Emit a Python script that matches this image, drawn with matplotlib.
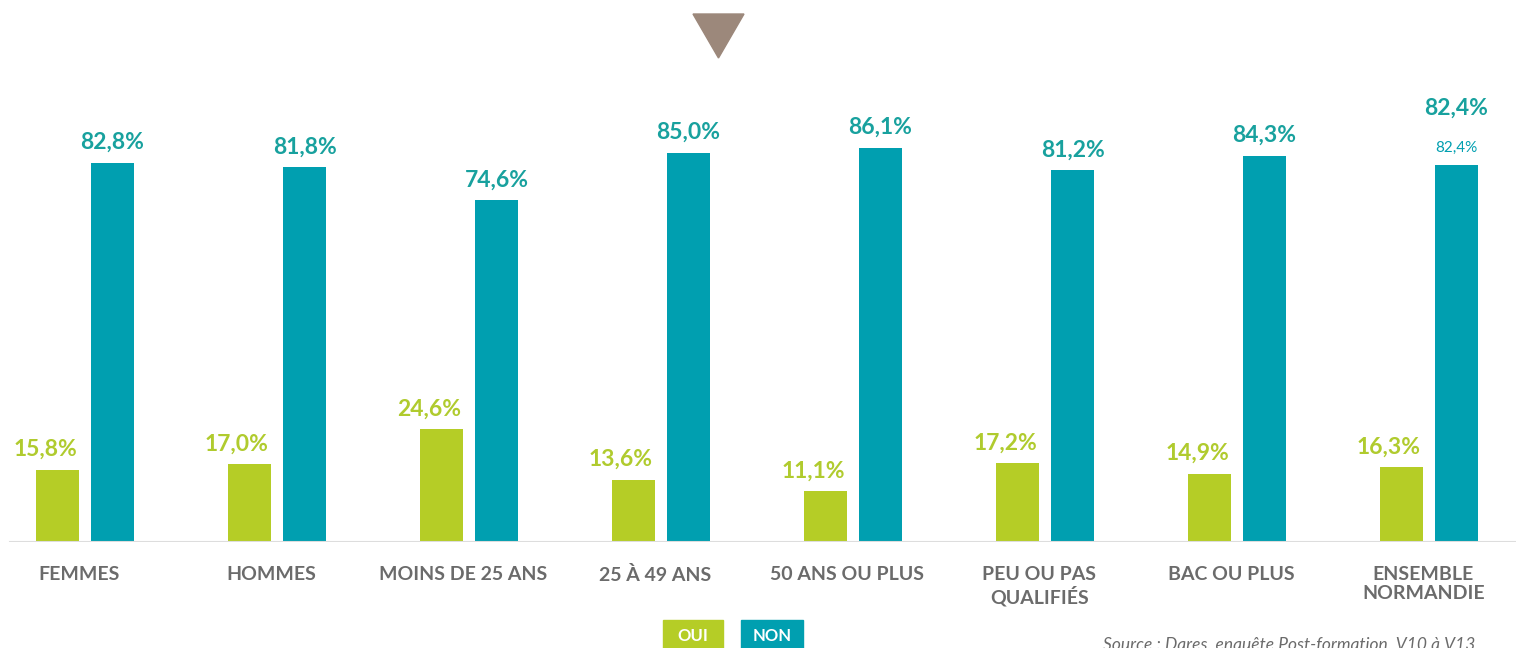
import matplotlib.pyplot as plt
from matplotlib.patches import Polygon, Rectangle
import numpy as np

plt.rcParams['font.family'] = ['Lato', 'DejaVu Sans']

categories = ["FEMMES", "HOMMES", "MOINS DE 25 ANS", "25 À 49 ANS", "50 ANS OU PLUS",
              "PEU OU PAS\nQUALIFIÉS", "BAC OU PLUS", "ENSEMBLE\nNORMANDIE"]
oui = [15.8, 17.0, 24.6, 13.6, 11.1, 17.2, 14.9, 16.3]
non = [82.8, 81.8, 74.6, 85.0, 86.1, 81.2, 84.3, 82.4]

vert = "#b5cd26"
bleu = "#009fb0"
vert_txt = "#b0cb2e"
bleu_txt = "#18a19e"
gris = "#6b6b6b"

W, H = 1516, 648
fig = plt.figure(figsize=(W / 100, H / 100), dpi=100)
ax = fig.add_axes([0, 1 - 542 / H, 1, 458 / H])

x = np.arange(len(categories))
larg = 43 / 192
dec = 55 / 2 / 192

ax.bar(x - dec, oui, width=larg, color=vert, zorder=2)
ax.bar(x + dec, non, width=larg, color=bleu, zorder=2)

def fmt(v):
    return f"{v:.1f}%".replace(".", ",")

for i in range(len(categories)):
    ax.annotate(fmt(oui[i]), (x[i] - dec, oui[i]), xytext=(-9, 7), textcoords="offset points",
                ha="center", va="bottom",
                fontsize=16.5, fontweight="bold", color=vert_txt)
    if i == len(categories) - 1:
        ax.annotate(fmt(non[i]), (x[i] + dec, non[i]), xytext=(0, 7), textcoords="offset points",
                    ha="center", va="bottom", fontsize=11, color=bleu)
        ax.annotate(fmt(non[i]), (x[i] + dec, non[i]), xytext=(0, 33), textcoords="offset points",
                    ha="center", va="bottom", fontsize=16.5, fontweight="bold", color=bleu_txt)
    else:
        ax.annotate(fmt(non[i]), (x[i] + dec, non[i]), xytext=(0, 7), textcoords="offset points",
                    ha="center", va="bottom", fontsize=16.5, fontweight="bold", color=bleu_txt)

ax.set_xlim(-85 / 192, (W - 85) / 192)
ax.set_ylim(0, 100)
ax.set_yticks([])
ax.set_xticks(x - 0.03)
ax.set_xticklabels(categories, fontsize=14, fontweight="bold", color=gris, linespacing=1.2)
ax.tick_params(axis="x", length=0, pad=17)
for s in ax.spines.values():
    s.set_visible(False)
ax.axhline(0, xmin=10 / W, xmax=1, color="#dddddd", lw=1.5, zorder=3)

# triangle en haut
tri = Polygon([[693 / W, 1 - 14 / H], [744 / W, 1 - 14 / H], [718.5 / W, 1 - 58 / H]],
              closed=True, transform=fig.transFigure, color="#9c887b")
fig.patches.append(tri)

# legende
for x0, x1, txt, c in [(663, 723, "OUI", vert), (741, 803, "NON", bleu)]:
    fig.patches.append(Rectangle((x0 / W, 0), (x1 - x0) / W, 28 / H,
                                 transform=fig.transFigure, color=c))
    fig.text((x0 + x1) / 2 / W, 1 - 636 / H, txt, ha="center", va="center",
             fontsize=12, fontweight="bold", color="white")

fig.text(1475 / W, 1 - 645 / H, "Source : Dares, enquête Post-formation, V10 à V13",
         ha="right", va="center", fontsize=12.5, style="italic", color=gris)

plt.savefig("out.png", dpi=100)
